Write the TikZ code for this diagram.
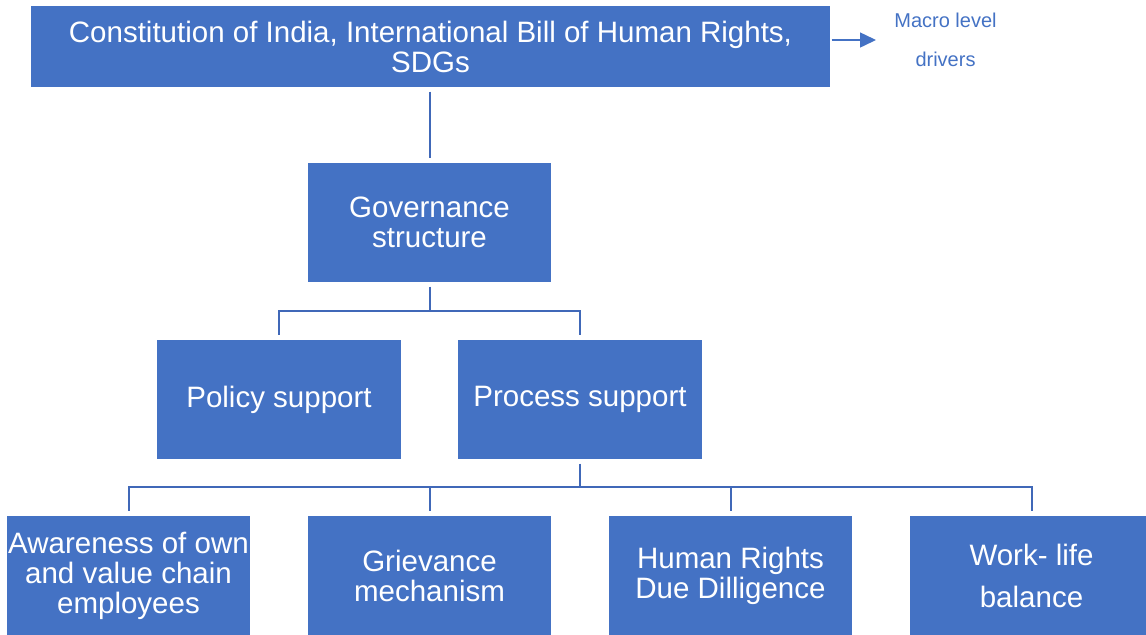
\documentclass[tikz,border=0pt]{standalone}
\usepackage{fontspec}
\setmainfont{Liberation Sans}
\usetikzlibrary{arrows.meta}
\definecolor{boxblue}{HTML}{4472C4}
\definecolor{linkblue}{HTML}{4068B8}
\begin{document}
\begin{tikzpicture}[x=0.5pt,y=-0.5pt,
  blk/.style={rectangle,fill=boxblue,draw=white,line width=0.6pt,inner sep=0pt,
    text=white,align=center,font=\fontsize{14.75pt}{15pt}\selectfont},
  wide/.style={blk,minimum width=400.5pt,minimum height=41.5pt},
  unit/.style={blk,minimum width=122.5pt,minimum height=60.5pt},
  link/.style={draw=linkblue,line width=1pt,shorten <=1.5pt,shorten >=1.5pt},
  note/.style={text=boxblue,align=center,inner sep=0pt,
    font=\fontsize{10pt}{19.5pt}\selectfont}]
\useasboundingbox (0,0) rectangle (1146,634);

% framework row
\node[wide] (top) at (430.5,46.5) {Constitution of India, International Bill of Human Rights,\\SDGs};
\coordinate (tip) at (876,40);
\draw[draw=boxblue,line width=0.75pt,-{Triangle[length=8pt,width=7.5pt]}] (top.east |- tip) -- (tip);
\node[note] (macro) at (945.5,39.5) {Macro level\\drivers};

% governance and support
\node[unit] (gov) at (429.5,222.5) {Governance\\structure};
\node[unit] (policy) at (279,399.5) {Policy support};
\node[unit] (process) at (580,399.5) {Process support};

% focus areas
\node[unit] (aware) at (128.5,575.5) {Awareness of own\\and value chain\\employees};
\node[unit] (griev) at (429.5,575.5) {Grievance\\mechanism};
\node[unit] (hrdd) at (730.5,575.5) {Human Rights\\Due Dilligence};
\node[unit] (work) at (1031.5,575.5) {Work- life\\[6pt]balance};

% connectors
\draw[link] (top.south -| gov.north) -- (gov.north);
\coordinate (busA) at (430,311);
\coordinate (busB) at (580,487);
\draw[link] (gov.south) |- (busA) -| (policy.north);
\draw[link,shorten <=0pt] (busA) -| (process.north);
\draw[link] (process.south) |- (busB) -| (aware.north);
\draw[link,shorten <=0pt] (busB) -| (work.north);
\draw[link,shorten <=0pt] (busB -| griev.north) -- (griev.north);
\draw[link,shorten <=0pt] (busB -| hrdd.north) -- (hrdd.north);
\end{tikzpicture}
\end{document}
